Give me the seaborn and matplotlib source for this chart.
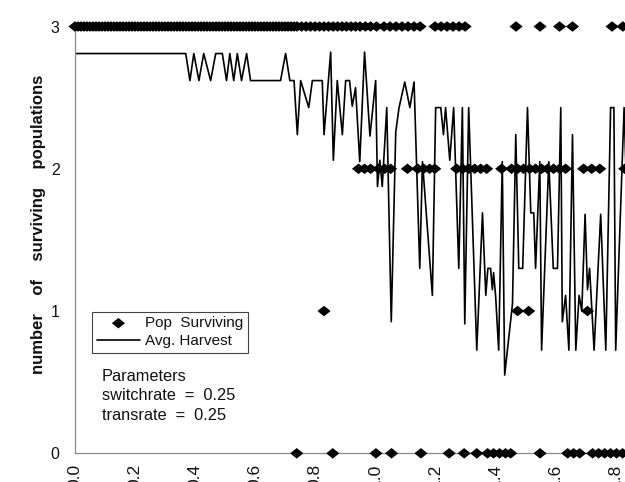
import numpy as np
import pandas as pd
import matplotlib
matplotlib.use("Agg")
import matplotlib.pyplot as plt
from matplotlib.markers import MarkerStyle
from matplotlib.path import Path
import seaborn as sns

# ---------------- data ----------------
harvest_x = [0.0, 0.369, 0.383, 0.396, 0.413, 0.429, 0.452, 0.469, 0.491, 0.505,
             0.516, 0.529, 0.541, 0.555, 0.572, 0.585, 0.685, 0.702, 0.716, 0.730,
             0.741, 0.752, 0.779, 0.791, 0.824, 0.830, 0.852, 0.861, 0.874, 0.891,
             0.902, 0.915, 0.924, 0.935, 0.949, 0.965, 0.983, 1.002, 1.008, 1.016,
             1.024, 1.039, 1.054, 1.069, 1.080, 1.099, 1.116, 1.130, 1.149, 1.158,
             1.191, 1.202, 1.219, 1.228, 1.235, 1.249, 1.262, 1.279, 1.291, 1.299,
             1.312, 1.339, 1.358, 1.369, 1.376, 1.385, 1.391, 1.395, 1.402, 1.412,
             1.424, 1.432, 1.458, 1.469, 1.479, 1.492, 1.508, 1.519, 1.529, 1.535,
             1.549, 1.555, 1.579, 1.594, 1.608, 1.619, 1.624, 1.635, 1.646, 1.658,
             1.669, 1.680, 1.689, 1.700, 1.708, 1.715, 1.730, 1.752, 1.769, 1.785,
             1.796, 1.802, 1.830, 1.852]
harvest_y = [2.81, 2.81, 2.62, 2.81, 2.62, 2.81, 2.62, 2.81, 2.81, 2.62,
             2.81, 2.62, 2.81, 2.62, 2.81, 2.62, 2.62, 2.81, 2.62, 2.62,
             2.24, 2.62, 2.43, 2.62, 2.62, 2.24, 2.82, 2.06, 2.62, 2.24,
             2.62, 2.62, 2.44, 2.57, 2.05, 2.82, 2.23, 2.62, 1.875, 2.06,
             1.875, 2.43, 0.925, 2.26, 2.43, 2.61, 2.43, 2.61, 1.30, 2.05,
             1.11, 2.43, 2.43, 2.24, 2.43, 2.06, 2.43, 1.30, 2.43, 0.91,
             2.43, 0.725, 1.69, 1.11, 1.30, 1.30, 1.15, 1.27, 1.10, 0.725,
             2.05, 0.55, 1.05, 2.24, 1.30, 1.30, 2.43, 1.69, 1.69, 1.30,
             2.05, 0.725, 2.05, 1.30, 1.30, 2.43, 0.925, 1.11, 0.725, 2.24,
             0.725, 1.11, 1.00, 1.68, 1.15, 1.30, 0.725, 1.68, 0.725, 2.43,
             2.43, 0.725, 2.43, 0.90]

surv3_x = [0.00, 0.01, 0.02, 0.03, 0.04, 0.05, 0.06, 0.07, 0.08, 0.09,
           0.10, 0.11, 0.12, 0.13, 0.14, 0.15, 0.16, 0.17, 0.18, 0.19,
           0.20, 0.21, 0.22, 0.23, 0.24, 0.25, 0.26, 0.27, 0.28, 0.29,
           0.30, 0.31, 0.32, 0.33, 0.34, 0.35, 0.36, 0.37, 0.38, 0.39,
           0.40, 0.41, 0.42, 0.43, 0.44, 0.45, 0.46, 0.47, 0.48, 0.49,
           0.50, 0.51, 0.52, 0.53, 0.54, 0.55, 0.56, 0.57, 0.58, 0.59,
           0.60, 0.61, 0.62, 0.63, 0.64, 0.65, 0.66, 0.67, 0.68, 0.69,
           0.70, 0.71, 0.72, 0.73, 0.74,
           0.755, 0.77, 0.785, 0.80, 0.815, 0.83, 0.845, 0.86, 0.875, 0.89,
           0.905, 0.92, 0.935, 0.95,
           0.968, 0.985, 1.005, 1.03, 1.05, 1.07, 1.09, 1.11, 1.13, 1.15,
           1.20, 1.22, 1.24, 1.26, 1.28, 1.30,
           1.47, 1.55, 1.615, 1.658, 1.79, 1.826]
surv2_x = [0.945, 0.965, 0.985, 1.012, 1.032, 1.052, 1.108, 1.142, 1.162, 1.182,
           1.199, 1.272, 1.292, 1.312, 1.332, 1.352, 1.372, 1.422, 1.455, 1.475,
           1.495, 1.515, 1.535, 1.555, 1.575, 1.595, 1.615, 1.635, 1.695, 1.722,
           1.749, 1.832]
surv1_x = [0.830, 1.475, 1.512, 1.708]
surv0_x = [0.739, 0.859, 1.003, 1.055, 1.153, 1.247, 1.297, 1.339, 1.375, 1.395,
           1.415, 1.435, 1.452, 1.55, 1.642, 1.662, 1.682, 1.725, 1.745, 1.765,
           1.785, 1.805, 1.825]

x_ticks = [0.0, 0.2, 0.4, 0.6, 0.8, 1.0, 1.2, 1.4, 1.6, 1.8]
x_tick_labels = ["0.0", "0.2", "0.4", "0.6", "0.8", "1.0", "1.2", "1.4", "1.6", "1.8"]
y_ticks = [0, 1, 2, 3]

# ---------------- build tables ----------------
surv = pd.DataFrame({
    "x": surv3_x + surv2_x + surv1_x + surv0_x,
    "y": [3] * len(surv3_x) + [2] * len(surv2_x) + [1] * len(surv1_x) + [0] * len(surv0_x),
})
harv = pd.DataFrame({"x": harvest_x, "y": harvest_y})

# ---------------- style ----------------
sns.set_theme(style="white")
plt.rcParams["font.family"] = ["Liberation Sans", "DejaVu Sans"]
plt.rcParams["text.color"] = "#111111"
plt.rcParams["xtick.color"] = "#111111"
plt.rcParams["ytick.color"] = "#111111"

fig = plt.figure(figsize=(6.25, 4.82), dpi=100)
ax = fig.add_axes([0.12, 0.0595, 0.88, 0.8855])

diamond = MarkerStyle(Path([(-1.0, 0.0), (0.0, 0.8), (1.0, 0.0), (0.0, -0.8), (-1.0, 0.0)],
                           [Path.MOVETO, Path.LINETO, Path.LINETO, Path.LINETO, Path.CLOSEPOLY]))

sns.scatterplot(data=surv, x="x", y="y", ax=ax, marker=diamond, s=90,
                color="black", edgecolor="none", linewidth=0, clip_on=False,
                label="Pop  Surviving", zorder=3)
sns.lineplot(data=harv, x="x", y="y", ax=ax, sort=False, estimator=None,
             color="black", linewidth=1.2, label="Avg. Harvest", zorder=2)

ax.set_xlim(0, 1.833)
ax.set_ylim(0, 3)
ax.set_xlabel("")
ax.set_ylabel("")

for side in ["top", "right"]:
    ax.spines[side].set_visible(False)
for side in ["left", "bottom"]:
    ax.spines[side].set_color("#8a8a8a")
    ax.spines[side].set_linewidth(0.9)

ax.set_yticks(y_ticks)
ax.set_yticklabels([str(v) for v in y_ticks], fontsize=11.5)
ax.tick_params(axis="y", direction="out", length=4, width=0.8, color="#8a8a8a", pad=7)

ax.set_xticks(x_ticks)
ax.set_xticklabels(x_tick_labels, rotation=90, fontsize=12.5)
ax.tick_params(axis="x", direction="inout", length=7, width=0.8, color="#8a8a8a", pad=4)

handles, labels = ax.get_legend_handles_labels()
leg = ax.legend(handles, labels, loc="upper left", bbox_to_anchor=(0.031, 0.332),
                fontsize=11, frameon=True, fancybox=False, framealpha=1,
                edgecolor="#444444", borderpad=0.3, handlelength=2.85,
                handletextpad=0.3, labelspacing=0.25, borderaxespad=0,
                scatterpoints=1)
leg.get_frame().set_linewidth(0.8)

ax.text(0.049, 0.197, "Parameters\nswitchrate  =  0.25\ntransrate  =  0.25",
        transform=ax.transAxes, ha="left", va="top", fontsize=11.8, linespacing=1.35)

fig.text(39 / 625, 1 - 224 / 482, "number    of    surviving    populations",
         rotation=90, ha="center", va="center", fontsize=12, fontweight="bold")

fig.savefig("out.png", dpi=100)
